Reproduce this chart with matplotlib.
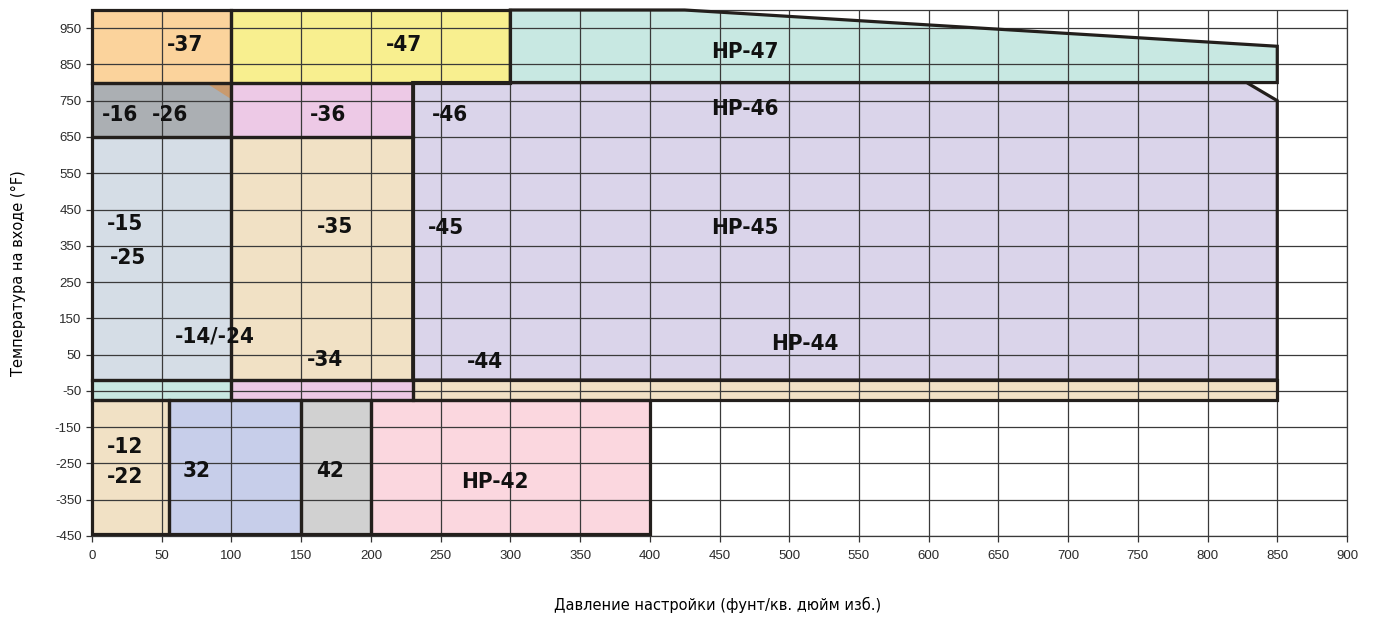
import matplotlib
matplotlib.use("Agg")
import matplotlib.pyplot as plt
from matplotlib.patches import Polygon

plt.rcParams["axes.unicode_minus"] = False

# ---- data ----
# rectangular regions: (p_min, p_max, t_min, t_max)
rect_names = ["-37", "-47", "-16/-26", "-36", "-15/-25/-14/-24", "-35/-34",
              "band_1x", "band_3x", "band_4x", "-12/-22", "32", "42", "HP-42"]
p_min = [0, 100, 0, 100, 0, 100, 0, 100, 230, 0, 55, 150, 200]
p_max = [100, 300, 100, 230, 100, 230, 100, 230, 850, 55, 150, 200, 400]
t_min = [800, 800, 650, 650, -20, -20, -75, -75, -75, -445, -445, -445, -445]
t_max = [1000, 1000, 800, 800, 650, 650, -20, -20, -20, -75, -75, -75, -75]
rect_colors = ["#FBD39C", "#F8EF8F", "#ABAFB3", "#EDC9E6", "#D5DDE6", "#F1E1C5",
               "#C8E8E2", "#EDC9E6", "#F1E1C5", "#F1E1C5", "#C7CEEA", "#D1D1D1", "#FBD7DF"]

# HP-47 polygon (pressure, temperature)
hp47_p = [300, 425, 850, 850, 300]
hp47_t = [1000, 1000, 900, 800, 800]
# HP-44/45/46 polygon
hp4x_p = [230, 828, 850, 850, 230]
hp4x_t = [800, 800, 750, -20, -20]
# small corner triangle in -16/-26 region
tri_p = [82, 100, 100]
tri_t = [800, 800, 755]

labels = ["-37", "-47", "HP-47", "HP-46", "-16", "-26", "-36", "-46",
          "-15", "-25", "-35", "-45", "HP-45", "-14/-24", "-34", "-44", "HP-44",
          "-12", "-22", "32", "42", "HP-42"]
label_p = [67, 224, 468, 468, 20, 56, 169, 257,
           24, 26, 174, 254, 468, 88, 167, 282, 511,
           24, 24, 75, 171, 289]
label_t = [903, 903, 883, 728, 711, 711, 711, 711,
           411, 317, 403, 400, 400, 101, 36, 30, 79,
           -205, -288, -272, -272, -300]

x_ticks = list(range(0, 901, 50))
y_ticks = list(range(-450, 951, 100))
x_label = "Давление настройки (фунт/кв. дюйм изб.)"
y_label = "Температура на входе (°F)"

# ---- plot ----
fig = plt.figure(figsize=(13.77, 6.17), dpi=100)
ax = fig.add_axes([92/1377, 1 - 536/617, (1347 - 92)/1377, (536 - 10)/617])
ax.set_xlim(0, 900)
ax.set_ylim(-450, 1000)

edge = "#231F1C"
lw = 2.3
for a, b, c, d, col in zip(p_min, p_max, t_min, t_max, rect_colors):
    ax.add_patch(Polygon([[a, c], [b, c], [b, d], [a, d]], closed=True,
                         facecolor=col, edgecolor="none", zorder=1))
    ax.add_patch(Polygon([[a, c], [b, c], [b, d], [a, d]], closed=True,
                         facecolor="none", edgecolor=edge, lw=lw, zorder=4,
                         joinstyle="miter", clip_on=False))

for ps, ts, col in [(hp47_p, hp47_t, "#C8E8E2"), (hp4x_p, hp4x_t, "#DAD4EA")]:
    pts = list(zip(ps, ts))
    ax.add_patch(Polygon(pts, closed=True, facecolor=col, edgecolor="none", zorder=1))
    ax.add_patch(Polygon(pts, closed=True, facecolor="none", edgecolor=edge,
                         lw=lw, zorder=4, joinstyle="miter", clip_on=False))

ax.add_patch(Polygon(list(zip(tri_p, tri_t)), closed=True, facecolor="#C99A6E",
                     edgecolor="none", zorder=2))

ax.set_xticks(x_ticks)
ax.set_yticks(y_ticks)
ax.grid(True, color="#3A3A3A", lw=0.9, zorder=3)
ax.set_axisbelow(False)
for s in ax.spines.values():
    s.set_color("#3A3A3A")
    s.set_linewidth(0.9)
    s.set_zorder(3)
ax.tick_params(axis="both", length=4, width=0.9, colors="#333333")
ax.tick_params(axis="x", pad=6)
for lab in ax.get_xticklabels() + ax.get_yticklabels():
    lab.set_family("Liberation Sans")
    lab.set_fontsize(9.5)
    lab.set_color("#2A2A2A")

for t, x, y in zip(labels, label_p, label_t):
    ax.text(x, y, t, ha="center", va="center", fontsize=16, fontweight="bold",
            fontstretch="condensed", family="DejaVu Sans", color="#111111", zorder=6)

fig.text(718/1377, 1 - 605/617, x_label, ha="center", va="center", fontsize=10.5)
fig.text(18/1377, 1 - 273/617, y_label, ha="center", va="center", fontsize=10.5,
         rotation=90)

fig.savefig("out.png", dpi=100)
